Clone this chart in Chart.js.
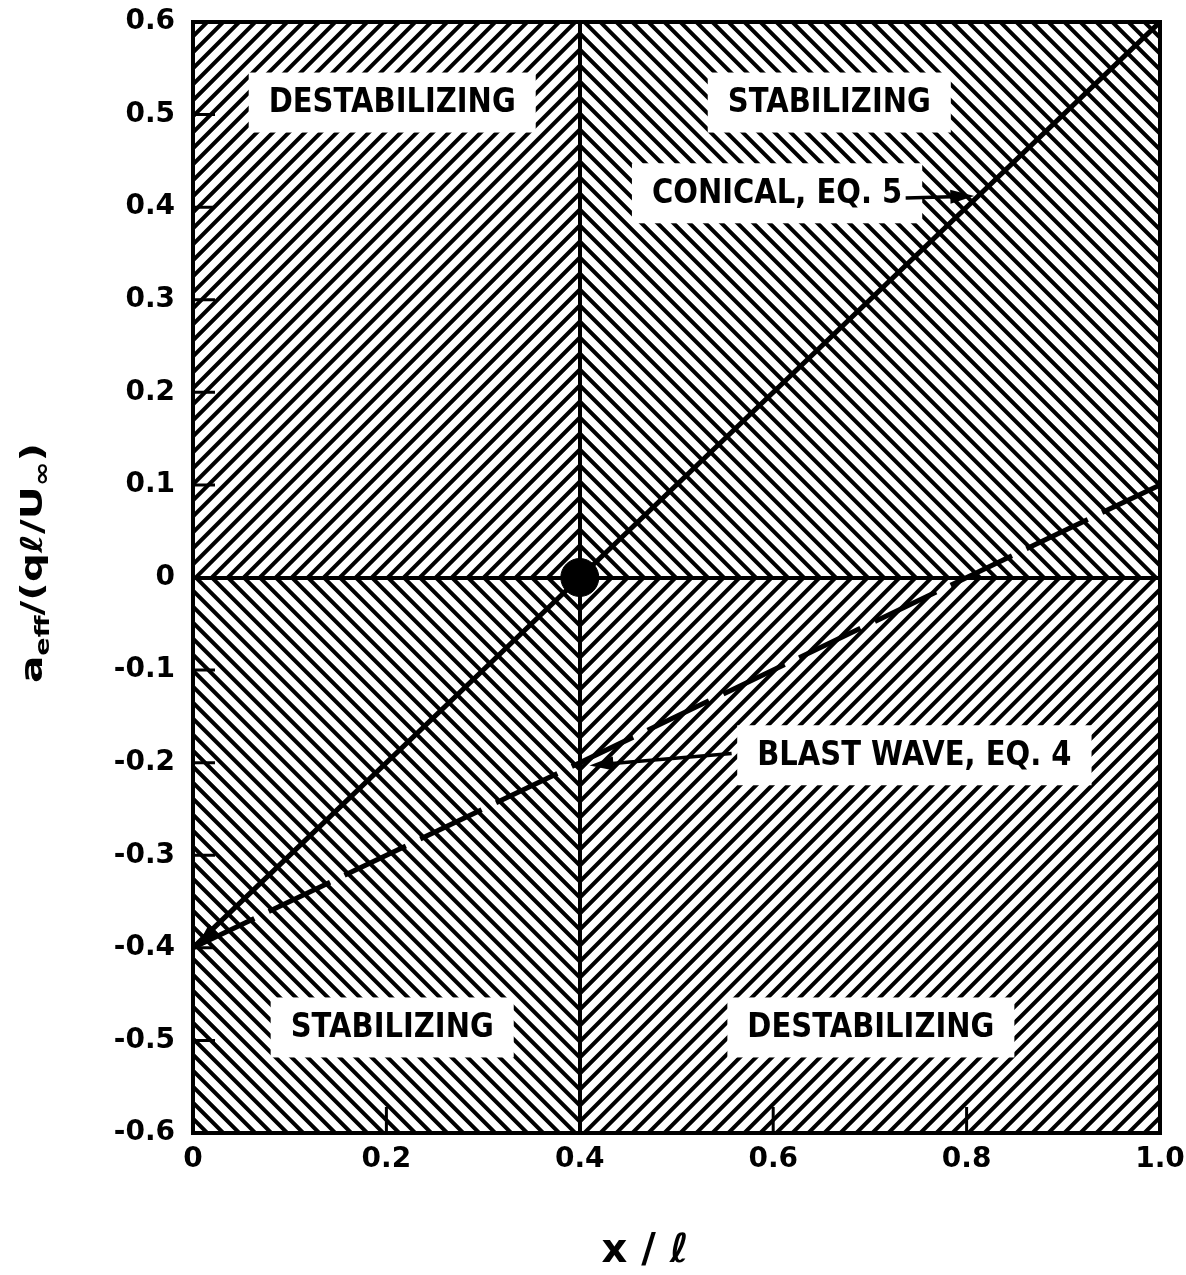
<!DOCTYPE html>
<html>
<head>
<meta charset="utf-8">
<script src="https://cdn.jsdelivr.net/npm/chart.js@4.4.0/dist/chart.umd.min.js"></script>
<style>
  html, body { margin: 0; padding: 0; background: #fff; }
</style>
</head>
<body>
<canvas id="c" width="1186" height="1275"></canvas>
<script>
// axis ticks
const xTicks = [0, 0.2, 0.4, 0.6, 0.8, 1.0];
const xTickLabels = ["0", "0.2", "0.4", "0.6", "0.8", "1.0"];
const yTicks = [-0.6, -0.5, -0.4, -0.3, -0.2, -0.1, 0, 0.1, 0.2, 0.3, 0.4, 0.5, 0.6];
const yTickLabels = ["-0.6", "-0.5", "-0.4", "-0.3", "-0.2", "-0.1", "0", "0.1", "0.2", "0.3", "0.4", "0.5", "0.6"];

// curves
const conicalX = [0, 0.4, 1.0];
const conicalY = [-0.4, 0, 0.6];
const blastX = [0, 0.4, 1.0];
const blastY = [-0.4, -0.2, 0.1];
const originX = [0.4];
const originY = [0];

// quadrant split
const splitX = 0.4;
const splitY = 0;

// region / curve labels
const labelText = ["DESTABILIZING", "STABILIZING", "STABILIZING", "DESTABILIZING", "CONICAL, EQ. 5", "BLAST WAVE, EQ. 4"];
const labelX = [0.206, 0.658, 0.206, 0.701, 0.604, 0.746];
const labelY = [0.513, 0.513, -0.486, -0.486, 0.415, -0.192];

const LABEL_FONT = "bold 34px 'DejaVu Sans'";
const HATCH_STEP = 16;

function labelScale(ctx) {
  ctx.font = LABEL_FONT;
  return 247 / ctx.measureText("DESTABILIZING").width;
}

function arrow(ctx, x0, y0, x1, y1) {
  const ang = Math.atan2(y1 - y0, x1 - x0);
  ctx.beginPath();
  ctx.moveTo(x0, y0);
  ctx.lineTo(x1 - 14 * Math.cos(ang), y1 - 14 * Math.sin(ang));
  ctx.stroke();
  ctx.beginPath();
  ctx.moveTo(x1, y1);
  ctx.lineTo(x1 - 24 * Math.cos(ang) + 7 * Math.sin(ang), y1 - 24 * Math.sin(ang) - 7 * Math.cos(ang));
  ctx.lineTo(x1 - 24 * Math.cos(ang) - 7 * Math.sin(ang), y1 - 24 * Math.sin(ang) + 7 * Math.cos(ang));
  ctx.closePath();
  ctx.fill();
}

const hatchPlugin = {
  id: "hatch",
  beforeDraw(chart) {
    const { ctx, chartArea: a, scales: { x, y } } = chart;
    const cx = x.getPixelForValue(splitX), cy = y.getPixelForValue(splitY);
    ctx.save();
    ctx.fillStyle = "#fff";
    ctx.fillRect(0, 0, chart.width, chart.height);
    const quads = [
      [a.left, a.top, cx, cy, 1],
      [cx, a.top, a.right, cy, -1],
      [a.left, cy, cx, a.bottom, -1],
      [cx, cy, a.right, a.bottom, 1]
    ];
    ctx.strokeStyle = "#000";
    ctx.lineWidth = 4;
    for (const [x0, y0, x1, y1, dir] of quads) {
      ctx.save();
      ctx.beginPath();
      ctx.rect(x0, y0, x1 - x0, y1 - y0);
      ctx.clip();
      ctx.beginPath();
      for (let k = -2400; k <= 2400; k += HATCH_STEP) {
        ctx.moveTo(cx + k - 1500, cy + dir * 1500);
        ctx.lineTo(cx + k + 1500, cy - dir * 1500);
      }
      ctx.stroke();
      ctx.restore();
    }
    // white boxes behind labels
    const sx = labelScale(ctx);
    ctx.fillStyle = "#fff";
    labelText.forEach((t, i) => {
      const w = ctx.measureText(t).width * sx;
      const px = x.getPixelForValue(labelX[i]), py = y.getPixelForValue(labelY[i]);
      ctx.fillRect(px - w / 2 - 20, py - 30, w + 40, 60);
    });
    ctx.restore();
  },
  afterDraw(chart) {
    const { ctx, chartArea: a, scales: { x, y } } = chart;
    ctx.save();
    ctx.strokeStyle = "#000";
    ctx.fillStyle = "#000";
    // frame
    ctx.lineWidth = 4;
    ctx.strokeRect(a.left, a.top, a.right - a.left, a.bottom - a.top);
    // inward ticks
    ctx.lineWidth = 3;
    ctx.beginPath();
    yTicks.forEach(v => {
      const py = y.getPixelForValue(v);
      ctx.moveTo(a.left, py);
      ctx.lineTo(a.left + 22, py);
    });
    xTicks.forEach(v => {
      const px = x.getPixelForValue(v);
      ctx.moveTo(px, a.bottom);
      ctx.lineTo(px, a.bottom - 26);
    });
    ctx.stroke();

    // labels
    const sx = labelScale(ctx);
    ctx.textAlign = "center";
    ctx.textBaseline = "middle";
    labelText.forEach((t, i) => {
      const px = x.getPixelForValue(labelX[i]), py = y.getPixelForValue(labelY[i]);
      ctx.save();
      ctx.translate(px, py + 1);
      ctx.scale(sx, 1);
      ctx.fillText(t, 0, 0);
      ctx.restore();
    });

    // arrows
    ctx.lineWidth = 3.5;
    arrow(ctx, x.getPixelForValue(0.737), y.getPixelForValue(0.41), x.getPixelForValue(0.808), y.getPixelForValue(0.412));
    arrow(ctx, x.getPixelForValue(0.557), y.getPixelForValue(-0.19), x.getPixelForValue(0.41), y.getPixelForValue(-0.203));
    // arrowhead at start of conical line
    const sx0 = x.getPixelForValue(conicalX[0]), sy0 = y.getPixelForValue(conicalY[0]);
    const sx1 = x.getPixelForValue(conicalX[1]), sy1 = y.getPixelForValue(conicalY[1]);
    const ang = Math.atan2(sy0 - sy1, sx0 - sx1);
    ctx.beginPath();
    ctx.moveTo(sx0 + 3, sy0);
    ctx.lineTo(sx0 + 3 - 26 * Math.cos(ang) + 8 * Math.sin(ang), sy0 - 26 * Math.sin(ang) - 8 * Math.cos(ang));
    ctx.lineTo(sx0 + 3 - 26 * Math.cos(ang) - 8 * Math.sin(ang), sy0 - 26 * Math.sin(ang) + 8 * Math.cos(ang));
    ctx.closePath();
    ctx.fill();

    // x title
    ctx.font = "bold 40px 'DejaVu Sans'";
    ctx.textAlign = "center";
    ctx.textBaseline = "alphabetic";
    ctx.fillText("x / \u2113", 645, 1262);

    // y title: a_eff/(q l/U_inf)
    const parts = [
      ["a", 30, 0], ["eff", 20, 7], ["/(q\u2113/U", 30, 0], ["\u221E", 22, 7], [")", 30, 0]
    ];
    let total = 0;
    parts.forEach(p => { ctx.font = `bold ${p[1]}px 'DejaVu Sans'`; p.push(ctx.measureText(p[0]).width); total += p[3]; });
    const stretch = 240 / total;
    ctx.translate(42, 563);
    ctx.rotate(-Math.PI / 2);
    ctx.scale(stretch, 1);
    ctx.textAlign = "left";
    let cur = -total / 2;
    parts.forEach(p => {
      ctx.font = `bold ${p[1]}px 'DejaVu Sans'`;
      ctx.fillText(p[0], cur, p[2]);
      cur += p[3];
    });
    ctx.restore();
  }
};

const tickFont = { family: "DejaVu Sans", weight: "bold", size: 28 };

new Chart(document.getElementById("c"), {
  type: "scatter",
  data: {
    datasets: [
      {
        label: "Conical, Eq. 5",
        data: conicalX.map((v, i) => ({ x: v, y: conicalY[i] })),
        showLine: true,
        borderColor: "#000",
        borderWidth: 5,
        pointRadius: 0
      },
      {
        label: "Blast wave, Eq. 4",
        data: blastX.map((v, i) => ({ x: v, y: blastY[i] })),
        showLine: true,
        borderColor: "#000",
        borderWidth: 5,
        borderDash: [68, 16],
        borderCapStyle: "butt",
        pointRadius: 0
      },
      {
        label: "origin",
        data: originX.map((v, i) => ({ x: v, y: originY[i] })),
        pointRadius: 19,
        backgroundColor: "#000",
        borderColor: "#000"
      }
    ]
  },
  options: {
    responsive: false,
    devicePixelRatio: 1,
    animation: false,
    layout: { padding: { top: 22, right: 26, left: 0, bottom: 0 } },
    plugins: { legend: { display: false }, tooltip: { enabled: false } },
    scales: {
      x: {
        type: "linear",
        min: 0,
        max: 1,
        afterBuildTicks: s => { s.ticks = xTicks.map(v => ({ value: v })); },
        afterFit: s => { s.height = 142; s.paddingLeft = 0; s.paddingRight = 0; },
        ticks: {
          callback: (v, i) => xTickLabels[i],
          font: tickFont,
          color: "#000",
          padding: 10,
          maxRotation: 0,
          autoSkip: false
        },
        grid: {
          color: c => (c.tick && Math.abs(c.tick.value - splitX) < 1e-6 ? "#000" : "rgba(0,0,0,0)"),
          lineWidth: 4,
          drawTicks: false
        },
        border: { display: true, color: "#000", width: 4 }
      },
      y: {
        type: "linear",
        min: -0.6,
        max: 0.6,
        afterBuildTicks: s => { s.ticks = yTicks.map(v => ({ value: v })); },
        afterFit: s => { s.width = 193; s.paddingTop = 0; s.paddingBottom = 0; },
        ticks: {
          callback: (v, i) => yTickLabels[i],
          font: tickFont,
          color: "#000",
          padding: 18,
          autoSkip: false
        },
        grid: {
          color: c => (c.tick && Math.abs(c.tick.value - splitY) < 1e-6 ? "#000" : "rgba(0,0,0,0)"),
          lineWidth: 4,
          drawTicks: false
        },
        border: { display: true, color: "#000", width: 4 }
      }
    }
  },
  plugins: [hatchPlugin]
});
</script>
</body>
</html>
